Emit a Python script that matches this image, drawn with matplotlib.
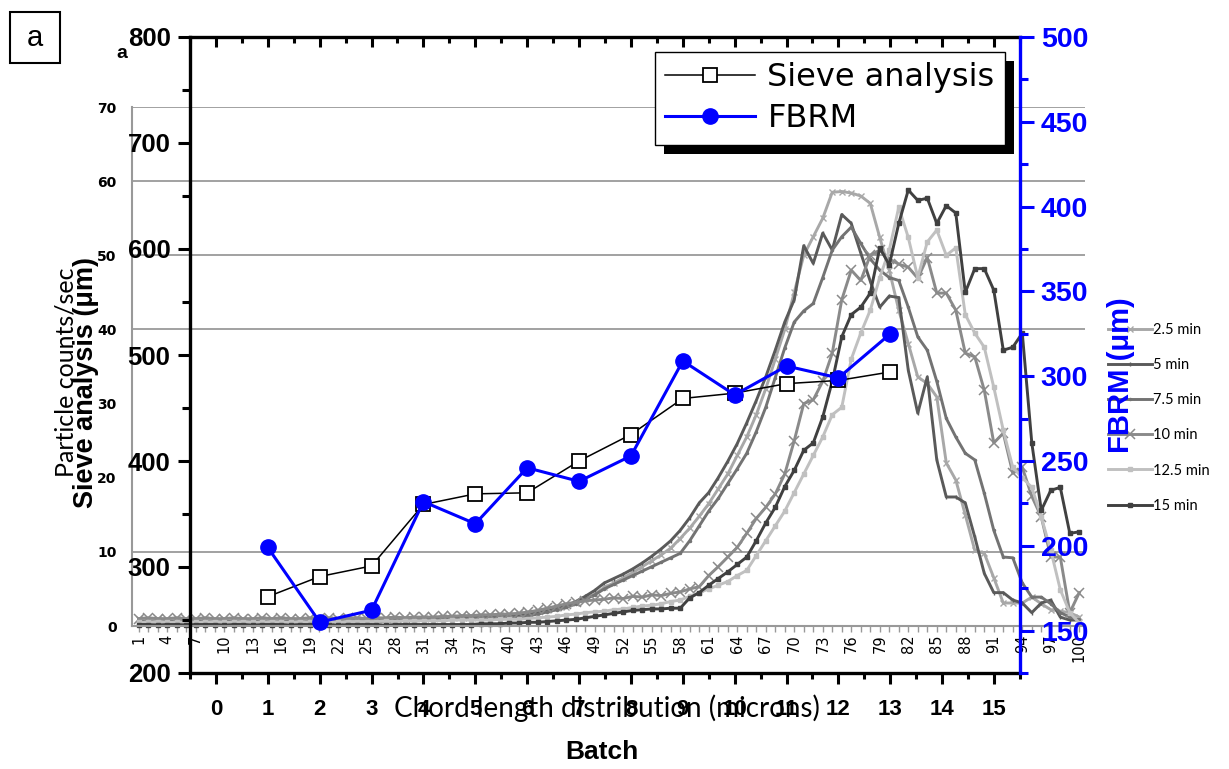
import numpy as np
import matplotlib
matplotlib.use('Agg')
import matplotlib.pyplot as plt
from matplotlib.patches import Rectangle
from matplotlib.ticker import MultipleLocator
from matplotlib.transforms import IdentityTransform

W, H = 1229, 769

# background chart: chord length distribution (counts/sec) per size bin
chord_bins = np.arange(1, 101)
counts_2_5 = [0.9, 0.8, 0.9, 0.8, 0.9, 0.8, 0.8, 0.9, 0.8, 0.9,
              0.8, 0.9, 0.8, 0.9, 0.8, 0.9, 0.8, 0.9, 0.9, 0.8,
              0.9, 0.9, 1.0, 0.9, 1.0, 0.9, 1.0, 1.0, 1.1, 1.0,
              1.1, 1.1, 1.2, 1.2, 1.3, 1.3, 1.4, 1.5, 1.5, 1.6,
              1.7, 1.8, 2.0, 2.2, 2.4, 2.6, 3.1, 3.7, 4.3, 5.2,
              5.8, 6.5, 7.2, 8.0, 8.8, 9.6, 10.5, 11.8, 13.2, 14.8,
              16.5, 18.5, 20.5, 23.0, 25.5, 28.5, 32.0, 36.0, 40.0, 45.0,
              50.0, 52.5, 55.0, 58.5, 58.6, 58.4, 58.0, 57.0, 52.4, 48.0,
              42.6, 38.1, 33.6, 32.7, 30.9, 22.0, 19.7, 15.0, 10.2, 9.8,
              6.5, 3.1, 3.1, 3.1, 3.9, 3.0, 2.2, 2.0, 1.8, 1.2]
counts_5 = [0.5, 0.6, 0.5, 0.5, 0.6, 0.5, 0.5, 0.6, 0.5, 0.5,
            0.6, 0.5, 0.5, 0.6, 0.5, 0.5, 0.6, 0.5, 0.6, 0.5,
            0.6, 0.6, 0.6, 0.7, 0.6, 0.7, 0.7, 0.7, 0.8, 0.8,
            0.8, 0.9, 0.9, 1.0, 1.0, 1.1, 1.1, 1.2, 1.2, 1.3,
            1.4, 1.5, 1.8, 2.0, 2.3, 2.7, 3.3, 4.0, 4.8, 5.8,
            6.4, 7.0, 7.7, 8.5, 9.4, 10.4, 11.5, 12.9, 14.6, 16.6,
            18.0, 20.0, 22.2, 24.6, 27.4, 30.4, 33.6, 37.2, 41.0, 44.0,
            51.3, 48.9, 53.0, 50.7, 55.5, 54.3, 50.3, 46.5, 43.0, 44.5,
            44.3, 34.5, 28.7, 33.6, 22.4, 17.4, 17.4, 16.6, 12.0, 7.1,
            4.5, 4.5, 3.5, 3.1, 1.8, 3.1, 3.5, 1.2, 0.8, 0.8]
counts_7_5 = [0.6, 0.6, 0.5, 0.6, 0.6, 0.5, 0.6, 0.6, 0.5, 0.6,
              0.6, 0.5, 0.6, 0.6, 0.5, 0.6, 0.6, 0.6, 0.5, 0.6,
              0.6, 0.6, 0.7, 0.6, 0.7, 0.7, 0.7, 0.8, 0.8, 0.8,
              0.8, 0.9, 0.9, 0.9, 1.0, 1.0, 1.1, 1.1, 1.2, 1.2,
              1.2, 1.4, 1.6, 1.9, 2.2, 2.5, 3.0, 3.6, 4.2, 5.0,
              5.6, 6.2, 6.8, 7.4, 8.0, 8.6, 9.2, 9.8, 11.5, 13.5,
              15.5, 17.2, 19.2, 21.2, 23.3, 26.2, 29.5, 33.5, 37.5, 41.0,
              42.5, 43.5, 47.0, 50.7, 52.5, 53.8, 51.6, 49.5, 48.0, 47.0,
              46.6, 43.0, 39.0, 37.2, 33.0, 28.0, 25.5, 23.3, 22.4, 17.9,
              12.9, 9.3, 9.2, 5.8, 3.9, 3.9, 3.0, 1.8, 1.2, 0.8]
counts_10 = [1.0, 1.1, 1.0, 1.0, 1.1, 1.0, 1.0, 1.1, 1.0, 1.0,
             1.1, 1.0, 1.0, 1.1, 1.0, 1.1, 1.0, 1.0, 1.1, 1.0,
             1.1, 1.0, 1.1, 1.1, 1.0, 1.1, 1.1, 1.2, 1.1, 1.2,
             1.2, 1.2, 1.3, 1.3, 1.4, 1.4, 1.5, 1.5, 1.6, 1.6,
             1.7, 1.9, 2.1, 2.4, 2.7, 3.0, 3.2, 3.4, 3.5, 3.6,
             3.8, 3.7, 4.0, 3.9, 4.2, 4.1, 4.4, 4.6, 5.0, 5.3,
             6.8, 8.0, 9.3, 10.6, 12.5, 14.5, 16.0, 17.8, 20.5, 25.0,
             30.0, 30.5, 33.0, 36.8, 44.0, 48.0, 46.6, 50.0, 50.7, 49.5,
             48.8, 48.4, 46.9, 49.7, 44.9, 44.9, 42.6, 36.8, 36.3, 31.8,
             24.7, 26.0, 20.6, 21.4, 17.5, 14.7, 9.3, 9.3, 1.8, 4.5]
counts_12_5 = [0.5, 0.5, 0.6, 0.5, 0.5, 0.6, 0.5, 0.5, 0.6, 0.5,
               0.5, 0.6, 0.5, 0.5, 0.6, 0.5, 0.5, 0.6, 0.5, 0.5,
               0.6, 0.5, 0.6, 0.6, 0.6, 0.6, 0.7, 0.6, 0.7, 0.7,
               0.7, 0.7, 0.7, 0.8, 0.8, 0.8, 0.8, 0.8, 0.9, 0.9,
               0.9, 1.0, 1.1, 1.2, 1.3, 1.5, 1.6, 1.8, 1.9, 2.0,
               2.2, 2.3, 2.5, 2.7, 2.8, 3.0, 3.3, 3.5, 4.0, 4.5,
               5.0, 5.5, 6.0, 6.8, 7.5, 9.5, 11.5, 13.5, 15.5, 18.0,
               20.5, 23.0, 25.5, 28.5, 29.5, 36.0, 39.5, 42.6, 47.0, 50.7,
               56.5, 52.4, 47.0, 51.8, 53.4, 50.0, 51.0, 42.0, 39.5, 37.6,
               32.2, 26.4, 21.4, 20.0, 18.7, 14.7, 10.2, 4.9, 1.8, 0.4]
counts_15 = [0.2, 0.2, 0.1, 0.2, 0.2, 0.1, 0.2, 0.2, 0.2, 0.1,
             0.2, 0.2, 0.1, 0.2, 0.2, 0.2, 0.1, 0.2, 0.2, 0.2,
             0.2, 0.1, 0.2, 0.2, 0.2, 0.2, 0.1, 0.2, 0.2, 0.2,
             0.2, 0.2, 0.2, 0.2, 0.2, 0.2, 0.3, 0.3, 0.3, 0.4,
             0.4, 0.5, 0.5, 0.6, 0.7, 0.8, 0.9, 1.1, 1.3, 1.5,
             1.7, 1.9, 2.1, 2.2, 2.3, 2.3, 2.4, 2.4, 3.8, 4.5,
             5.5, 6.4, 7.3, 8.3, 9.3, 11.5, 13.9, 16.0, 18.8, 21.0,
             23.7, 24.7, 28.2, 33.0, 39.0, 42.0, 43.0, 44.9, 51.0, 48.7,
             54.3, 58.8, 57.4, 57.7, 54.3, 56.7, 55.7, 45.0, 48.2, 48.2,
             45.3, 37.2, 37.6, 39.5, 24.7, 15.6, 18.3, 18.7, 12.5, 12.7]
time_labels = ['2.5 min', '5 min', '7.5 min', '10 min', '12.5 min', '15 min']
grid_levels = [10, 40, 50, 60, 70]

# front chart: sieve analysis vs FBRM per batch
batches = np.arange(1, 14)
sieve = [272, 291, 301, 359, 369, 370, 400, 425, 459, 464, 473, 476, 484]
fbrm = [199, 155, 162, 226, 213, 246, 238, 253, 309, 289, 306, 299, 325]

fig = plt.figure(figsize=(W / 100, H / 100), dpi=100)
fig.patch.set_facecolor('white')

# ---------- background chart ----------
bg = fig.add_axes([132 / W, 1 - 626 / H, 953 / W, 519 / H])
bg.patch.set_alpha(0)
for lv in grid_levels:
    bg.axhline(lv, color='#9a9a9a', lw=1.3, zorder=0.5)

styles = [
    dict(color='#a8a8a8', marker='x', ms=4.5, mew=1.0),
    dict(color='#5a5a5a', marker='|', ms=3, mew=1.0),
    dict(color='#737373', marker='.', ms=3),
    dict(color='#8a8a8a', marker='x', ms=7, mew=1.1),
    dict(color='#c0c0c0', marker='s', ms=3),
    dict(color='#404040', marker='s', ms=3.5),
]
series = [counts_2_5, counts_5, counts_7_5, counts_10, counts_12_5, counts_15]
for vals, lab, st in zip(series, time_labels, styles):
    bg.plot(chord_bins, vals, lw=2.1, label=lab, clip_on=False, zorder=2, **st)

bg.set_xlim(0.3, 100.6)
bg.set_ylim(0, 70)
bg.set_yticks(range(0, 71, 10))
bg.set_xticks(chord_bins)
bg.set_xticklabels([str(c) if (c - 1) % 3 == 0 else '' for c in chord_bins])
bg.tick_params(axis='x', length=4, width=1, color='#999999', direction='out',
               labelsize=10.5, labelrotation=90, pad=2)
bg.tick_params(axis='y', length=0, labelsize=10, pad=11)
for lbl in bg.get_yticklabels():
    lbl.set_fontweight('bold')
for s in ['top', 'right']:
    bg.spines[s].set_visible(False)
for s in ['left', 'bottom']:
    bg.spines[s].set_color('#999999')
    bg.spines[s].set_linewidth(1.5)

bg.legend(loc='upper left', bbox_to_anchor=(1108 / W, 1 - 323 / H),
          bbox_transform=fig.transFigure, frameon=False,
          handlelength=3.0, handletextpad=0.1, labelspacing=1.45,
          borderpad=0, borderaxespad=0, prop={'family': 'Lato', 'size': 10.5})

fig.text(66 / W, 1 - 372 / H, 'Particle counts/sec', rotation=90, ha='center', va='center',
         fontsize=18, family='Lato')
fig.text(607 / W, 1 - 708 / H, 'Chord length distribution (microns)', ha='center', va='center',
         fontsize=20, family='Lato')

# ---------- front chart ----------
ax = fig.add_axes([190 / W, 1 - 673 / H, 830 / W, 636 / H])
ax.patch.set_alpha(0)
ax2 = ax.twinx()
ax2.patch.set_alpha(0)

l1, = ax.plot(batches, sieve, color='black', lw=1.1, marker='s', ms=10,
              mfc='white', mec='black', mew=1.3, zorder=3, label='Sieve analysis')
l2, = ax2.plot(batches, fbrm, color='#0000ff', lw=2.2, marker='o', ms=11,
               zorder=3, label='FBRM')

ax.set_xlim(-0.5, 15.5)
ax.set_ylim(200, 800)
ax2.set_ylim(125, 500)
ax.xaxis.set_major_locator(MultipleLocator(1))
ax.xaxis.set_minor_locator(MultipleLocator(0.5))
ax.yaxis.set_major_locator(MultipleLocator(100))
ax.yaxis.set_minor_locator(MultipleLocator(50))
ax2.yaxis.set_major_locator(MultipleLocator(50))
ax2.yaxis.set_minor_locator(MultipleLocator(25))

ax.tick_params(axis='x', which='major', direction='out', length=8, width=2.2, pad=11)
ax.tick_params(axis='x', which='minor', direction='out', length=4, width=2.2)
ax.tick_params(axis='y', which='major', direction='out', length=9, width=2.2, pad=5)
ax.tick_params(axis='y', which='minor', direction='out', length=6, width=2.2)
ax2.tick_params(axis='y', which='major', direction='out', length=10, width=2.2, pad=5,
                colors='#0000ff')
ax2.tick_params(axis='y', which='minor', direction='out', length=6, width=2.2,
                colors='#0000ff')
for lbl in ax.get_xticklabels():
    lbl.set_fontproperties(dict(family='Liberation Sans', weight='bold', size=16))
for lbl in ax.get_yticklabels():
    lbl.set_fontproperties(dict(family='Liberation Sans', weight='bold', size=18.5))
for lbl in ax2.get_yticklabels():
    lbl.set_fontproperties(dict(family='Liberation Sans', weight='bold', size=20.5))

for s in ['left', 'bottom']:
    ax.spines[s].set_linewidth(2.4)
ax.spines['right'].set_visible(False)
ax.spines['top'].set_visible(False)
for s in ['left', 'bottom', 'top']:
    ax2.spines[s].set_visible(False)
ax2.spines['right'].set_color('#0000ff')
ax2.spines['right'].set_linewidth(2.4)

top = ax.secondary_xaxis('top')
top.xaxis.set_major_locator(MultipleLocator(1))
top.xaxis.set_minor_locator(MultipleLocator(0.5))
top.tick_params(axis='x', which='major', direction='in', length=7, width=2.2, labeltop=False)
top.tick_params(axis='x', which='minor', direction='in', length=4, width=2.2)
top.spines['top'].set_linewidth(2.4)

ax.set_xlabel('Batch', fontsize=19, weight='bold', family='Liberation Sans', va='center')
ax.xaxis.set_label_coords((602 - 190) / 830, (673 - 752) / 636)
ax.set_ylabel('Sieve analysis (\u03bcm)', fontsize=19.5, weight='bold',
              family='Liberation Sans', va='center')
ax.yaxis.set_label_coords((86 - 190) / 830, (673 - 382) / 636)
ax2.set_ylabel('FBRM (\u03bcm)', fontsize=21, weight='bold', family='Liberation Sans',
               color='#0000ff', va='center')
ax2.yaxis.set_label_coords((1121 - 190) / 830, (673 - 375) / 636)

leg = ax2.legend([l1, l2], ['Sieve analysis', 'FBRM'], loc='upper left',
                 bbox_to_anchor=(655 / W, 1 - 52 / H), bbox_transform=fig.transFigure,
                 borderaxespad=0, fancybox=False, framealpha=1, edgecolor='black',
                 handlelength=2.8, handletextpad=0.4, borderpad=0.32, labelspacing=0.32,
                 prop={'family': 'DejaVu Sans', 'size': 23})
leg.get_frame().set_linewidth(1.0)
leg.set_zorder(10)

# panel tags
fig.patches.append(Rectangle((10 / W, 1 - 63 / H), 50 / W, 51 / H, transform=fig.transFigure,
                             fill=False, edgecolor='black', lw=1.5))
fig.text(35 / W, 1 - 38 / H, 'a', ha='center', va='center', fontsize=21, family='Liberation Sans')
fig.text(122 / W, 1 - 53 / H, 'a', ha='center', va='center', fontsize=14, weight='bold',
         family='Liberation Sans')

# legend drop shadow
fig.canvas.draw()
bb = leg.get_window_extent()
shadow = Rectangle((bb.x0 + 9, bb.y0 - 9), bb.width, bb.height, transform=IdentityTransform(),
                   facecolor='black', edgecolor='none', zorder=9)
shadow.set_clip_on(False)
ax2.add_artist(shadow)

fig.savefig('out.png', dpi=100)
